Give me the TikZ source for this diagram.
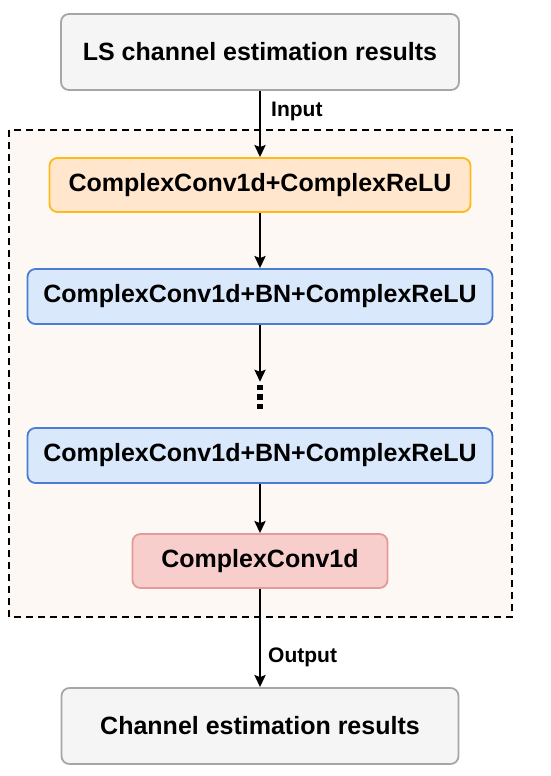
\documentclass[tikz,border=0pt]{standalone}
\usepackage{fontspec}
\setmainfont{Liberation Sans}
\usetikzlibrary{arrows.meta}

\definecolor{grayfill}{HTML}{F5F5F5}
\definecolor{graydraw}{HTML}{A6A6A6}
\definecolor{orangefill}{HTML}{FFE6CC}
\definecolor{orangedraw}{HTML}{FFBA1A}
\definecolor{bluefill}{HTML}{DAE8FC}
\definecolor{bluedraw}{HTML}{4A7DD3}
\definecolor{redfill}{HTML}{F8CECC}
\definecolor{reddraw}{HTML}{E39A98}
\definecolor{netfill}{HTML}{FDF8F3}

\tikzset{
  block/.style={rounded corners=8pt, line width=1.8pt, inner sep=0pt,
    font=\fontsize{25}{28}\selectfont\bfseries},
  flow/.style={-{Stealth[length=12pt,width=11pt,inset=2pt]}, line width=2.6pt},
  lbl/.style={anchor=west, inner sep=0pt, font=\fontsize{21}{24}\selectfont\bfseries}
}

\begin{document}
\begin{tikzpicture}[x=1pt, y=-1pt]

\useasboundingbox (0,0) rectangle (550,776);

\def\cx{260}

% network frame
\draw[dashed, dash pattern=on 7pt off 5pt, line width=1.8pt, fill=netfill]
  (9,130) rectangle (512,617);

\node[block, fill=grayfill, draw=graydraw, minimum width=398pt, minimum height=76pt]
  (ls) at (\cx,52) {LS channel estimation results};

\node[block, fill=orangefill, draw=orangedraw, minimum width=421pt, minimum height=54pt]
  (conv1) at (\cx,185) {ComplexConv1d+ComplexReLU};

\node[block, fill=bluefill, draw=bluedraw, minimum width=465pt, minimum height=55pt]
  (bn1) at (\cx,296.5) {ComplexConv1d+BN+ComplexReLU};

\node[minimum width=6pt, minimum height=30pt, inner sep=0pt] (dots) at (\cx,397) {};
\foreach \y in {-9.5,0,9.5}
  \fill ([yshift=\y pt]dots.center) ++(-2.6,-2.6) rectangle ++(5.2,5.2);

\node[block, fill=bluefill, draw=bluedraw, minimum width=465pt, minimum height=55pt]
  (bn2) at (\cx,455.5) {ComplexConv1d+BN+ComplexReLU};

\node[block, fill=redfill, draw=reddraw, minimum width=255pt, minimum height=54pt]
  (conv2) at (\cx,561) {ComplexConv1d};

\node[block, fill=grayfill, draw=graydraw, minimum width=397pt, minimum height=76pt]
  (est) at (\cx,726) {Channel estimation results};

\draw[flow] (ls) -- (conv1);
\draw[flow] (conv1) -- (bn1);
\draw[flow] (bn1) -- (dots);
\draw[flow] (bn2) -- (conv2);
\draw[flow] (conv2) -- (est);

\node[lbl] (in) at (271,111) {Input};
\node[lbl] (out) at (268,657) {Output};

\end{tikzpicture}
\end{document}
